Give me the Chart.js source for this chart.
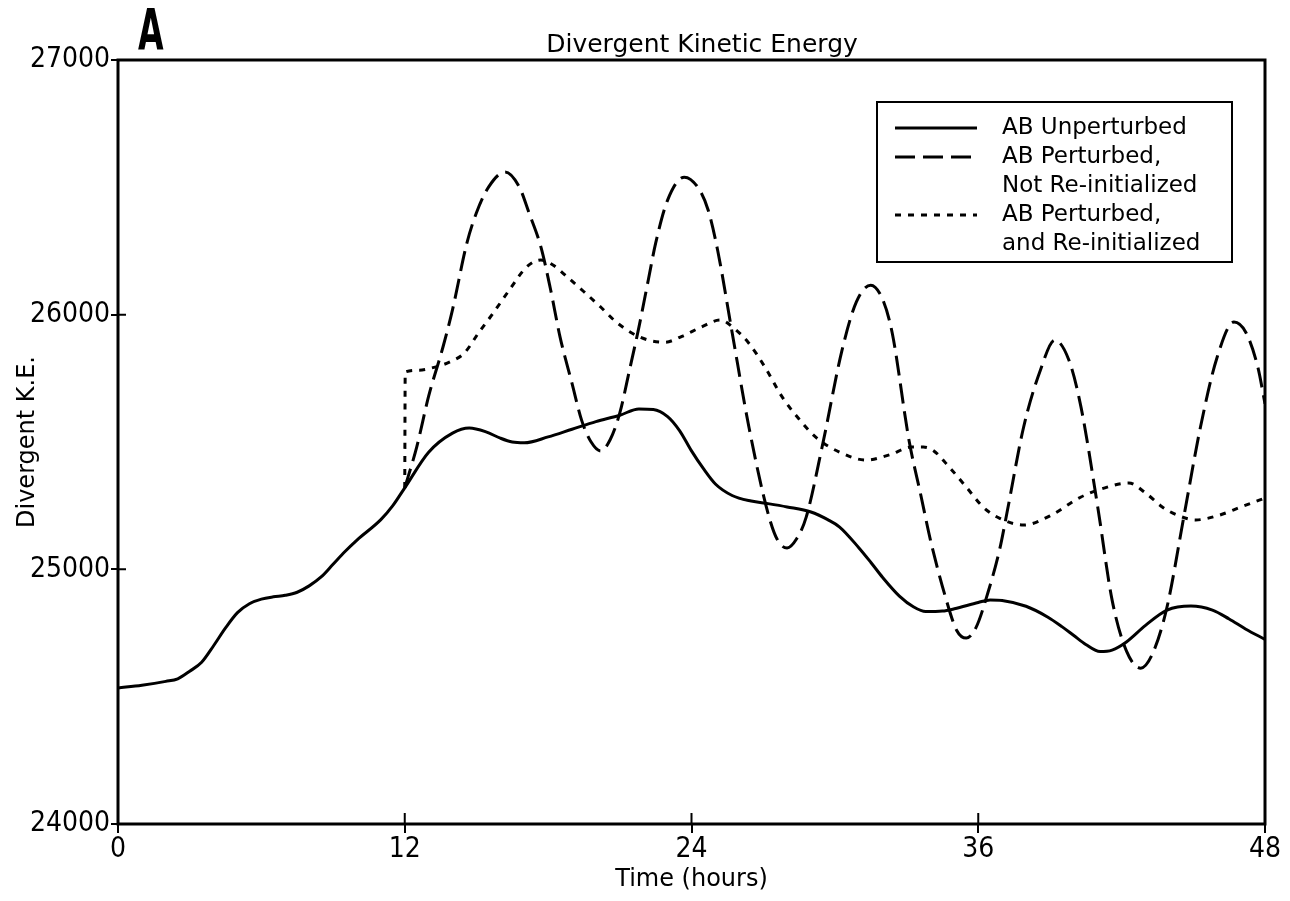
<!DOCTYPE html>
<html><head><meta charset="utf-8">
<script src="https://cdn.jsdelivr.net/npm/chart.js@4.4.1/dist/chart.umd.min.js"></script>
<style>html,body{margin:0;padding:0;background:#fff;}#wrap{position:relative;width:1290px;height:901px;}</style>
</head><body><div id="wrap"><canvas id="c" width="1290" height="901"></canvas></div>
<script>
// ---- data ----
const unpertHours  = [0,1,2,2.5,3,3.5,4,4.5,5,5.5,6,6.5,7,7.5,8,8.5,9,9.5,10,11,11.5,12,13,14,14.7,15.4,16,16.5,17,18,19,20,21,21.8,22.4,23,23.5,24,24.5,25,25.7,26.5,27.2,28,29,29.7,30.2,31,31.5,32,32.7,33.3,33.8,34.5,35,36,36.5,37,38,38.9,39.5,40,40.5,41.1,41.6,42.2,43,43.9,44.9,45.8,46.5,47.2,48];
const unpertValues = [24534,24545,24560,24570,24600,24635,24700,24770,24830,24865,24883,24892,24898,24910,24935,24970,25020,25070,25115,25195,25250,25320,25460,25535,25555,25540,25515,25500,25497,25520,25550,25580,25605,25630,25628,25600,25545,25465,25395,25335,25290,25268,25258,25245,25225,25195,25166,25085,25028,24968,24895,24852,24834,24836,24845,24870,24880,24878,24855,24813,24775,24740,24705,24677,24683,24715,24780,24840,24856,24840,24805,24765,24725];

const notReinitHours  = [12,12.5,13,13.6,14,14.6,15,15.5,16.2,16.8,17.2,17.7,18.1,18.5,19,19.4,19.8,20.2,20.6,21,21.4,21.8,22.2,22.5,23,23.7,24.3,24.7,25.1,25.7,26.4,27.2,27.6,28,28.4,28.8,29.5,30.3,30.9,31.5,32,32.4,33.1,33.6,34,34.6,35.1,35.5,35.9,36.4,36.9,37.2,37.9,38.6,39.2,39.8,40.3,41,41.6,42.2,42.8,43.3,43.9,44.6,45.3,46,46.7,47.2,47.7,48];
const notReinitValues = [25320,25480,25680,25873,26020,26281,26400,26500,26560,26500,26400,26265,26100,25912,25730,25586,25500,25465,25510,25614,25780,25951,26140,26281,26450,26540,26495,26410,26250,25930,25560,25221,25115,25084,25120,25205,25496,25861,26050,26116,26060,25928,25508,25290,25115,24900,24760,24730,24770,24907,25080,25221,25559,25782,25900,25820,25637,25245,24880,24680,24612,24670,24852,25205,25559,25834,25971,25930,25794,25650];

const reinitHours  = [12,12.02,12.6,13.1,13.9,14.5,15.1,15.7,16.4,17.1,17.7,18.2,18.8,19.5,20.2,20.8,21.5,22.2,22.9,23.6,24.4,25.2,25.8,26.4,27.1,27.8,28.5,29.2,30.2,31.3,32.3,33.2,33.7,34.1,34.8,35.5,36.2,36.9,37.9,39,40.3,41.3,42.3,43,43.7,44.4,45.1,46,47,48];
const reinitValues = [25320,25775,25782,25790,25815,25850,25930,26006,26100,26187,26215,26195,26148,26090,26030,25975,25928,25900,25892,25915,25951,25979,25945,25888,25790,25676,25590,25519,25460,25429,25450,25480,25480,25468,25400,25323,25245,25200,25174,25210,25284,25320,25339,25300,25245,25210,25194,25210,25245,25280];

const seriesNames = ['AB Unperturbed', 'AB Perturbed, Not Re-initialized', 'AB Perturbed, and Re-initialized'];
const legendLines = [['AB Unperturbed'], ['AB Perturbed,', 'Not Re-initialized'], ['AB Perturbed,', 'and Re-initialized']];
const xTickValues = [0, 12, 24, 36, 48];
const yTickValues = [24000, 25000, 26000, 27000];
const chartTitle = 'Divergent Kinetic Energy';
const panelLabel = 'A';
const xAxisTitle = 'Time (hours)';
const yAxisTitle = 'Divergent K.E.';

// ---- build ----
function pts(hs, vs){ return hs.map((h,i)=>({x:h, y:vs[i]})); }
const dashes = [[], [20, 8], [6, 7]];

const extrasPlugin = {
  id: 'extras',
  afterLayout(chart){
    const tb = chart.titleBlock;
    if (tb) { tb.left = 139; tb.right = 1265; }
  },
  afterDraw(chart){
    const ctx = chart.ctx, a = chart.chartArea;
    const xs = chart.scales.x, ys = chart.scales.y;
    ctx.save();
    ctx.strokeStyle = '#000'; ctx.lineWidth = 3;
    ctx.strokeRect(a.left, a.top, a.right - a.left, a.bottom - a.top);
    ctx.lineWidth = 2;
    ctx.beginPath();
    xTickValues.forEach(v => { const p = xs.getPixelForValue(v); ctx.moveTo(p, a.bottom); ctx.lineTo(p, a.bottom - 11); });
    yTickValues.forEach(v => { const p = ys.getPixelForValue(v); ctx.moveTo(a.left, p); ctx.lineTo(a.left + 8, p); });
    ctx.stroke();
    // panel label
    ctx.save();
    ctx.fillStyle = '#000';
    ctx.font = 'bold 57px "DejaVu Sans"';
    ctx.textBaseline = 'alphabetic';
    ctx.translate(138, 50);
    ctx.scale(0.58, 1);
    ctx.fillText(panelLabel, 0, 0);
    ctx.restore();
    // legend
    const bx = a.right - 388, by = a.top + 42, bw = 355, bh = 160;
    ctx.fillStyle = '#fff';
    ctx.fillRect(bx, by, bw, bh);
    ctx.strokeStyle = '#000'; ctx.lineWidth = 2;
    ctx.strokeRect(bx, by, bw, bh);
    ctx.font = '23px "DejaVu Sans"';
    ctx.fillStyle = '#000';
    ctx.textBaseline = 'middle';
    let row = 0;
    const rowH = 29, y0 = by + 26;
    legendLines.forEach((lines, i) => {
      const ly = y0 + row * rowH;
      ctx.save();
      ctx.lineWidth = 3; ctx.setLineDash(dashes[i]);
      ctx.beginPath(); ctx.moveTo(bx + 18, ly); ctx.lineTo(bx + 100, ly); ctx.stroke();
      ctx.restore();
      lines.forEach(t => { ctx.fillText(t, bx + 125, y0 + row * rowH); row++; });
    });
    ctx.restore();
  }
};

new Chart(document.getElementById('c'), {
  type: 'line',
  data: {
    datasets: [
      { label: seriesNames[0], data: pts(unpertHours, unpertValues), borderDash: dashes[0] },
      { label: seriesNames[1], data: pts(notReinitHours, notReinitValues), borderDash: dashes[1] },
      { label: seriesNames[2], data: pts(reinitHours, reinitValues), borderDash: dashes[2] }
    ]
  },
  options: {
    responsive: false,
    animation: false,
    devicePixelRatio: 1,
    elements: {
      line: { borderColor: '#000', borderWidth: 3, cubicInterpolationMode: 'monotone', fill: false },
      point: { radius: 0 }
    },
    layout: { padding: { left: 0, right: 25, top: 0, bottom: 0 } },
    plugins: {
      legend: { display: false },
      tooltip: { enabled: false },
      title: { display: true, text: chartTitle, color: '#000', font: { family: 'DejaVu Sans', size: 25, weight: 'normal' }, padding: { top: 30, bottom: 0 } }
    },
    scales: {
      x: {
        type: 'linear', min: 0, max: 48,
        afterBuildTicks: s => { s.ticks = xTickValues.map(v => ({ value: v })); },
        afterFit: s => { s.height = 77; },
        grid: { drawOnChartArea: false, drawTicks: true, tickLength: 9, color: '#000', lineWidth: 2 },
        border: { display: false },
        ticks: { color: '#000', padding: 0, font: { family: '"Liberation Sans Narrow", "DejaVu Sans Condensed"', size: 28 }, maxRotation: 0 },
        title: { display: true, text: xAxisTitle, color: '#000', font: { family: 'DejaVu Sans', size: 24 }, padding: { top: 0, bottom: 7 } }
      },
      y: {
        type: 'linear', min: 24000, max: 27000,
        afterBuildTicks: s => { s.ticks = yTickValues.map(v => ({ value: v })); },
        afterFit: s => { s.width = 118; },
        grid: { drawOnChartArea: false, drawTicks: true, tickLength: 7, color: '#000', lineWidth: 2 },
        border: { display: false },
        ticks: { color: '#000', padding: 1, font: { family: '"Liberation Sans Narrow", "DejaVu Sans Condensed"', size: 28 }, callback: v => String(v) },
        title: { display: true, text: yAxisTitle, color: '#000', font: { family: 'DejaVu Sans', size: 24 }, padding: { top: 13, bottom: 0 } }
      }
    }
  },
  plugins: [extrasPlugin]
});
</script></body></html>
